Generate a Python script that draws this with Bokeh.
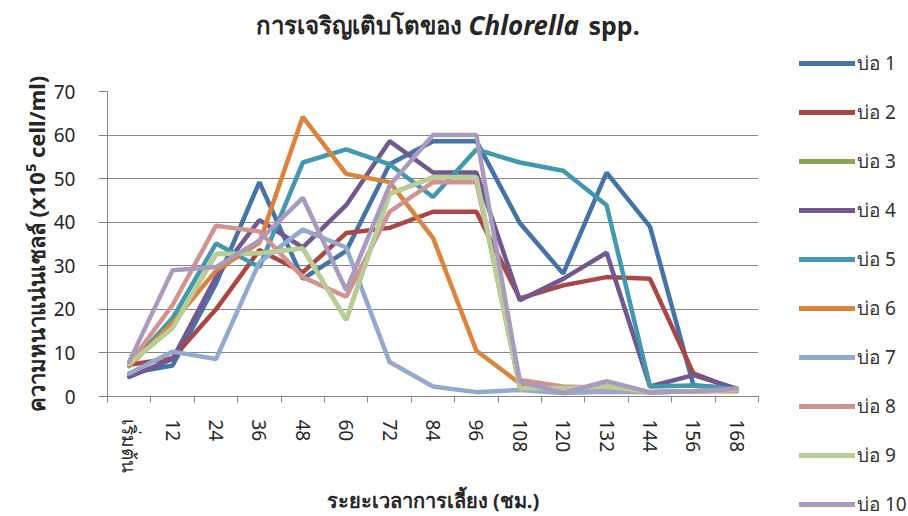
from bokeh.plotting import figure
from bokeh.models import Range1d, FixedTicker, Legend, LegendItem, Label
from bokeh.layouts import row, column
from bokeh.embed import file_html
from bokeh.resources import INLINE

categories = ["เริ่มต้น", "12", "24", "36", "48", "60", "72", "84",
              "96", "108", "120", "132", "144", "156", "168"]

series_names = ["บ่อ 1", "บ่อ 2", "บ่อ 3", "บ่อ 4", "บ่อ 5",
                "บ่อ 6", "บ่อ 7", "บ่อ 8", "บ่อ 9", "บ่อ 10"]

pond1 = [5.3, 7.1, 25.9, 49.2, 27.0, 33.4, 53.3, 58.6, 58.6, 39.8, 28.2, 51.4, 39.0, 2.6, 1.8]
pond2 = [7.3, 8.8, 20.0, 33.6, 28.5, 37.5, 38.7, 42.4, 42.4, 22.5, 25.5, 27.4, 27.0, 5.3, 1.5]
pond3 = [7.5, 15.8, 32.7, 32.9, 34.0, 17.6, 46.5, 50.3, 50.3, 1.9, 1.9, 2.3, 1.0, 1.2, 1.5]
pond4 = [4.5, 8.6, 27.4, 40.5, 34.2, 43.9, 58.6, 51.4, 51.4, 22.1, 27.0, 33.0, 2.3, 4.9, 1.8]
pond5 = [7.0, 18.0, 35.1, 29.7, 53.7, 56.7, 53.3, 45.8, 56.7, 53.7, 51.8, 43.9, 2.3, 2.5, 1.8]
pond6 = [7.0, 16.9, 28.9, 35.3, 64.2, 51.1, 49.2, 36.4, 10.5, 3.0, 1.5, 1.5, 1.0, 1.2, 1.2]
pond7 = [5.3, 10.3, 8.6, 30.8, 38.3, 34.2, 7.9, 2.3, 1.0, 1.5, 0.8, 1.1, 1.0, 1.2, 1.5]
pond8 = [7.5, 21.0, 39.2, 37.9, 27.4, 22.9, 42.4, 49.2, 49.2, 3.8, 2.3, 2.0, 1.0, 1.2, 1.5]
pond9 = [7.5, 15.8, 32.7, 32.9, 34.0, 17.6, 46.5, 50.3, 50.3, 1.9, 1.9, 2.3, 1.0, 1.2, 1.5]
pond10 = [8.0, 29.0, 29.7, 35.8, 45.6, 24.4, 48.4, 60.0, 60.0, 3.4, 0.8, 3.5, 1.0, 1.2, 1.8]

y_ticks = [0, 10, 20, 30, 40, 50, 60, 70]

title_parts = ["การเจริญเติบโตของ", "Chlorella", "spp."]
x_title = "ระยะเวลาการเลี้ยง (ชม.)"
y_title = "ความหนาแน่นเซลล์ (x10⁵ cell/ml)"

colors = ["#4572A7", "#AA4643", "#89A54E", "#71588F", "#4198AF",
          "#DB843D", "#93A9CF", "#D19392", "#B9CD96", "#A99BBD"]

all_series = [pond1, pond2, pond3, pond4, pond5, pond6, pond7, pond8, pond9, pond10]

FONT = "Noto Sans"
TXT = "#262626"
GRID = "#868686"

LW = 790
BL, BR = 107, 32          # left / right borders shared by title strip and chart


def bare_fig(w, h, bl=0, br=0, xr=None):
    f = figure(width=w, height=h, output_backend="svg", toolbar_location=None,
               x_range=xr if xr is not None else Range1d(0, w), y_range=Range1d(0, h),
               x_axis_location=None, y_axis_location=None,
               min_border=0, min_border_left=bl, min_border_right=br,
               min_border_top=0, min_border_bottom=0)
    f.grid.visible = False
    f.outline_line_color = None
    f.background_fill_color = "white"
    f.border_fill_color = "white"
    return f


# ---------------- title strip (x data == page pixel) ----------------
tf = bare_fig(LW, 50, BL, BR, Range1d(BL, LW - BR))
ty = 26
tf.add_layout(Label(x=255, y=ty, text=title_parts[0], text_align="left",
                    text_baseline="middle", text_font=FONT, text_font_size="24px",
                    text_font_style="bold", text_color=TXT))
tf.add_layout(Label(x=468, y=ty, text=title_parts[1], text_align="left",
                    text_baseline="middle", text_font=FONT, text_font_size="26px",
                    text_font_style="bold italic", text_color=TXT))
tf.add_layout(Label(x=588, y=ty, text=title_parts[2], text_align="left",
                    text_baseline="middle", text_font=FONT, text_font_size="25px",
                    text_font_style="bold", text_color=TXT))

# ---------------- main chart ----------------
p = figure(width=LW, height=466, output_backend="svg", toolbar_location=None,
           x_range=Range1d(0, len(categories)), y_range=Range1d(0, 70),
           min_border_left=BL, min_border_right=BR, min_border_top=41,
           min_border_bottom=114)
p.outline_line_color = None
p.background_fill_color = "white"
p.border_fill_color = "white"

xs = [i + 0.5 for i in range(len(categories))]

for name, vals, col in zip(series_names, all_series, colors):
    p.line(xs, vals, line_color=col, line_width=4.5, line_cap="round")

p.xgrid.visible = False
p.ygrid.grid_line_color = GRID
p.ygrid.grid_line_width = 1
p.ygrid.ticker = FixedTicker(ticks=y_ticks)

xa = p.xaxis[0]
xa.ticker = FixedTicker(ticks=xs, minor_ticks=list(range(len(categories) + 1)))
xa.major_label_overrides = {x: c for x, c in zip(xs, categories)}
xa.major_tick_in = 0
xa.major_tick_out = 0
xa.minor_tick_in = 0
xa.minor_tick_out = 6
xa.minor_tick_line_color = GRID
xa.axis_line_color = GRID
xa.major_label_orientation = "vertical"
xa.major_label_standoff = 17
xa.major_label_text_font = FONT
xa.major_label_text_font_size = "19px"
xa.major_label_text_color = TXT
xa.axis_label = x_title
xa.axis_label_text_font = FONT
xa.axis_label_text_font_size = "20px"
xa.axis_label_text_font_style = "bold"
xa.axis_label_text_color = TXT
xa.axis_label_standoff = 10

ya = p.yaxis[0]
ya.ticker = FixedTicker(ticks=y_ticks)
ya.major_tick_in = 0
ya.major_tick_out = 9
ya.major_tick_line_color = GRID
ya.minor_tick_line_color = None
ya.axis_line_color = GRID
ya.major_label_standoff = 23
ya.major_label_text_font = FONT
ya.major_label_text_font_size = "19px"
ya.major_label_text_color = TXT
ya.axis_label = y_title
ya.axis_label_text_font = FONT
ya.axis_label_text_font_size = "22px"
ya.axis_label_text_font_style = "bold"
ya.axis_label_text_color = TXT
ya.axis_label_standoff = 0

# ---------------- legend strip ----------------
lf = bare_fig(118, 516)
items = []
for name, vals, col in zip(series_names, all_series, colors):
    # single-point line: draws nothing itself, only serves the legend swatch
    r = lf.line(xs[:1], vals[:1], line_color=col, line_width=5, line_cap="round")
    items.append(LegendItem(label=name, renderers=[r]))

legend = Legend(items=items, location=(9, -5), orientation="vertical",
                glyph_width=56, glyph_height=34, label_height=34,
                label_standoff=2, spacing=15, padding=0, margin=0,
                border_line_color=None, background_fill_alpha=0,
                label_text_font=FONT, label_text_font_size="19px",
                label_text_color="#333333")
lf.add_layout(legend, "center")

layout = row(column(tf, p), lf)

open("out.html", "w").write(file_html(layout, INLINE))
